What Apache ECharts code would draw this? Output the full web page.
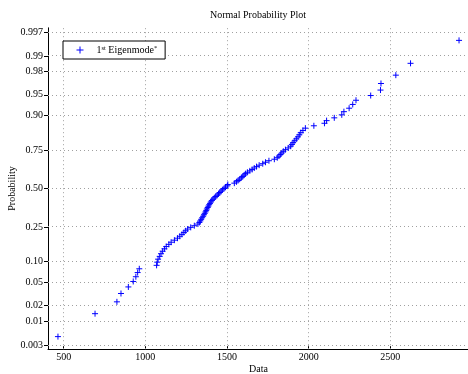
<!DOCTYPE html>
<html>
<head>
<meta charset="utf-8">
<script src="https://cdn.jsdelivr.net/npm/echarts@6/dist/echarts.min.js"></script>
<style>
html,body{margin:0;padding:0;background:#fff;}
#chart{width:468px;height:374px;}
</style>
</head>
<body>
<div id="chart"></div>
<script>
// Sorted sample values (first eigenmode), smallest to largest
const sortedData = [
  465, 692, 826, 851, 896, 926, 942, 953, 963, 1069,
  1073, 1078, 1088, 1096, 1106, 1117, 1128, 1144, 1158, 1178,
  1197, 1211, 1224, 1236, 1247, 1259, 1278, 1300, 1322, 1331,
  1337, 1342, 1348, 1354, 1359, 1364, 1369, 1373, 1377, 1382,
  1386, 1391, 1396, 1401, 1407, 1414, 1422, 1431, 1440, 1448,
  1456, 1464, 1472, 1482, 1491, 1502, 1505, 1545, 1558, 1568,
  1578, 1588, 1597, 1605, 1614, 1625, 1640, 1654, 1667, 1681,
  1697, 1719, 1736, 1757, 1790, 1808, 1818, 1827, 1836, 1845,
  1858, 1875, 1890, 1898, 1905, 1915, 1925, 1935, 1943, 1952,
  1965, 1980, 2032, 2097, 2110, 2157, 2203, 2216, 2248, 2270,
  2290, 2380, 2440, 2443, 2534, 2624, 2921
];

// Probability tick labels on the normal-quantile axis
const probTicks = ['0.003', '0.01', '0.02', '0.05', '0.10', '0.25', '0.50',
                   '0.75', '0.90', '0.95', '0.98', '0.99', '0.997'];
// Data-axis tick labels
const dataTicks = [500, 1000, 1500, 2000, 2500];

const seriesName = '1st Eigenmode*';

// Inverse standard normal CDF (Acklam's rational approximation)
function norminv(p) {
  const a = [-3.969683028665376e+01, 2.209460984245205e+02, -2.759285104469687e+02,
             1.383577518672690e+02, -3.066479806614716e+01, 2.506628277459239e+00];
  const b = [-5.447609879822406e+01, 1.615858368580409e+02, -1.556989798598866e+02,
             6.680131188771972e+01, -1.328068155288572e+01];
  const c = [-7.784894002430293e-03, -3.223964580411365e-01, -2.400758277161838e+00,
             -2.549732539343734e+00, 4.374664141464968e+00, 2.938163982698783e+00];
  const d = [7.784695709041462e-03, 3.224671290700398e-01, 2.445134137142996e+00,
             3.754408661907416e+00];
  const pl = 0.02425, ph = 1 - pl;
  let q, r;
  if (p < pl) {
    q = Math.sqrt(-2 * Math.log(p));
    return (((((c[0]*q+c[1])*q+c[2])*q+c[3])*q+c[4])*q+c[5]) /
           ((((d[0]*q+d[1])*q+d[2])*q+d[3])*q+1);
  }
  if (p <= ph) {
    q = p - 0.5; r = q * q;
    return (((((a[0]*r+a[1])*r+a[2])*r+a[3])*r+a[4])*r+a[5])*q /
           (((((b[0]*r+b[1])*r+b[2])*r+b[3])*r+b[4])*r+1);
  }
  q = Math.sqrt(-2 * Math.log(1 - p));
  return -(((((c[0]*q+c[1])*q+c[2])*q+c[3])*q+c[4])*q+c[5]) /
          ((((d[0]*q+d[1])*q+d[2])*q+d[3])*q+1);
}

// Plotting positions (i - 0.5) / n mapped to normal quantiles
const n = sortedData.length;
const points = sortedData.map((v, i) => [v, norminv((i + 0.5) / n)]);

const tickZ = probTicks.map(s => norminv(parseFloat(s)));
const labelFor = z => {
  let best = 0;
  tickZ.forEach((t, i) => { if (Math.abs(t - z) < Math.abs(tickZ[best] - z)) best = i; });
  return probTicks[best];
};

const FONT = 'Liberation Serif';
const gridLine = { color: '#a0a0a0', width: 1, type: [1, 3] };
const plusPath = 'path://M0,5L10,5M5,0L5,10';

const chart = echarts.init(document.getElementById('chart'), null, { renderer: 'canvas' });

chart.setOption({
  animation: false,
  backgroundColor: '#fff',
  textStyle: { fontFamily: FONT },
  grid: { left: 48, top: 27.8, width: 421, height: 321.4, containLabel: false,
          outerBoundsMode: 'none' },
  graphic: [{
    type: 'text', x: 258, y: 15.7,
    style: { text: 'Normal Probability Plot', font: '10px "Liberation Serif"',
             fill: '#000', textAlign: 'center', textVerticalAlign: 'middle' }
  }],
  legend: {
    left: 63, top: 41,
    orient: 'vertical',
    backgroundColor: '#fff',
    borderColor: '#000', borderWidth: 1, borderRadius: 0,
    padding: [4, 8, 4, 13],
    itemWidth: 7, itemHeight: 7,
    itemStyle: { color: '#0000ff', borderColor: '#0000ff', borderWidth: 1 },
    data: [{ name: seriesName, icon: plusPath }],
    formatter: () => '{f|1}{s|st}{a| Eigenmode}{s|*}',
    textStyle: {
      fontFamily: FONT, fontSize: 10, color: '#000',
      rich: {
        f: { fontFamily: FONT, fontSize: 10, padding: [0, 0, 0, 8] },
        a: { fontFamily: FONT, fontSize: 10 },
        s: { fontFamily: FONT, fontSize: 6.5, verticalAlign: 'top' }
      }
    }
  },
  xAxis: {
    type: 'value', min: 404, max: 2982,
    name: 'Data', nameLocation: 'middle', nameGap: 15, nameMoveOverlap: false,
    nameTextStyle: { fontFamily: FONT, fontSize: 10, color: '#000' },
    axisLine: { show: true, onZero: false, lineStyle: { color: '#000', width: 1 } },
    axisTick: { show: true, inside: true, length: 3, customValues: dataTicks,
                lineStyle: { color: '#000' } },
    axisLabel: { customValues: dataTicks, margin: 3, fontFamily: FONT, fontSize: 10, color: '#000',
                 formatter: v => String(v) },
    splitLine: { show: false }
  },
  yAxis: {
    type: 'value', min: -2.82, max: 2.82,
    name: 'Probability', nameLocation: 'middle', nameGap: 31, nameRotate: 90,
    nameMoveOverlap: false,
    nameTextStyle: { fontFamily: FONT, fontSize: 10, color: '#000' },
    axisLine: { show: true, onZero: false, lineStyle: { color: '#000', width: 1 } },
    axisTick: { show: true, inside: false, length: 4, customValues: tickZ,
                lineStyle: { color: '#000' } },
    axisLabel: { customValues: tickZ, margin: 5, fontFamily: FONT, fontSize: 10, color: '#000',
                 formatter: v => labelFor(v) },
    splitLine: { show: false }
  },
  series: [{
    name: seriesName,
    type: 'scatter',
    data: points,
    symbol: plusPath,
    symbolSize: 6,
    itemStyle: { color: '#0000ff', borderColor: '#0000ff', borderWidth: 1, opacity: 1 },
    z: 5,
    markLine: {
      silent: true, symbol: 'none', z: 1,
      label: { show: false },
      lineStyle: gridLine,
      animation: false,
      data: dataTicks.map(v => ({ xAxis: v })).concat(tickZ.map(z => ({ yAxis: z })))
    }
  }]
});
</script>
</body>
</html>
